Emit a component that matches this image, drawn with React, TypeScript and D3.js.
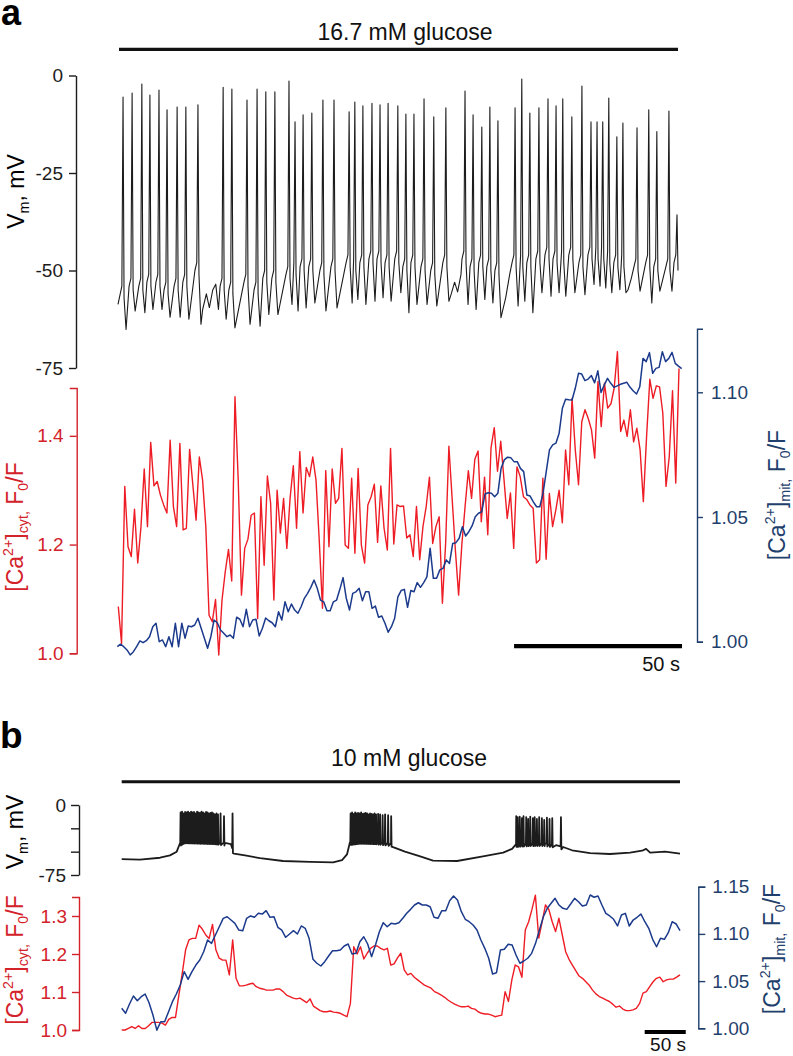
import React, { useEffect, useRef } from 'react';
import * as d3 from 'd3';

const W = 793;
const H = 1056;
const FONT = '"Liberation Sans", Arial, Helvetica, sans-serif';
const INK = '#1c1c1c';
const RED = '#ee1c25';
const RED_AXIS = '#d3222a';
const BLUE = '#1b3a8c';
const BLUE_AXIS = '#1f3f6d';

// ---------- panel a : 16.7 mM glucose ----------
// action potentials: time (s), peak (mV), threshold before spike (mV), trough after spike (mV)
const vmASpikeTimes = [
  1.5, 4.2, 7.1, 9.5, 12.2, 14.6, 17.6, 20.2, 23.8, 31.3, 33.9, 38.4, 41.4, 44.0, 46.7, 50.9, 52.7, 55.1, 57.7, 61.0,
  64.3, 68.8, 70.5, 72.9, 75.6, 78.0, 80.4, 83.3, 85.7, 88.1, 91.1, 94.0, 97.6, 103.3, 105.7, 108.3, 110.7, 113.1, 118.2, 120.2,
  122.6, 125.3, 128.0, 130.4, 132.4, 135.1, 138.1, 140.8, 142.6, 144.3, 146.1, 148.5, 150.3, 154.5, 158.0, 160.4, 164.0, 166.4,
];
const vmASpikePeaks = [
  -5.5, -4.5, -2.2, -5, -3.7, -8.8, -8.1, -8.1, -7.5, -3, -3.5, -6.3, -3.5, -4.2, -4.2, -1.4, -11.9, -10.1, -9.6, -6.3,
  -6.3, -9.3, -6.8, -7.8, -7.1, -7.5, -7.1, -7.8, -9.9, -9.9, -6, -10.6, -8.3, -4, -10.1, -13.2, -8.1, -11.6, -8.3, -0.9,
  -9.6, -8.3, -6, -7.8, -6, -10.6, -2.7, -11.9, -11.9, -11.9, -5.8, -15.7, -12.2, -13.4, -8.8, -14.4, -9.1, -35.7,
];
const vmAThresholds = [
  -54, -52, -52, -51, -51, -53, -52, -51, -48, -52, -53, -51, -53, -50, -50, -49, -48, -47, -47, -48,
  -47, -46, -47, -46, -45, -45, -46, -45, -47, -46, -47, -48, -46, -45, -47, -46, -47, -48, -46, -46,
  -46, -45, -44, -45, -45, -44, -46, -44, -44, -44, -45, -46, -46, -47, -46, -47, -47, -46,
];
const vmATroughs = [
  -65.1, -60.4, -60.8, -60, -60, -62, -62, -62.5, -63.8, -62.5, -64.7, -63.8, -64.3, -61.3, -61.3, -58.7, -60.4, -59.6, -58.3, -60.4,
  -59.6, -58.3, -57.4, -58.7, -57.9, -57, -57.9, -55.7, -60.8, -58.7, -58.7, -59.1, -57.9, -58.7, -60, -57.4, -58.3, -62.1, -59.1, -57.9,
  -60.8, -55.7, -56.6, -55.7, -56.6, -55.7, -56.2, -53.6, -54.0, -54.5, -55.7, -54.9, -55.7, -55.3, -58.3, -55.3, -55.3, -50,
];
// baseline readings inside the longer pauses between spikes: [s, mV]
const vmAPauses: [number, number][] = [
  [25.2, -60], [26.3, -56], [27.2, -59.5], [28.2, -55], [29.1, -53.5], [29.9, -60],
  [99.2, -56], [100.2, -53], [101.1, -55.5], [102.1, -51],
  [115.4, -57], [116.6, -51],
  [151.8, -55], [152.8, -52],
];
const vmAStart = -58.7;

// cytosolic Ca2+ (F0/F), one sample per frame
const caCytA = [
  1.086, 1.018, 1.307, 1.196, 1.178, 1.265, 1.166, 1.233, 1.339, 1.233,
  1.388, 1.308, 1.316, 1.291, 1.273, 1.258, 1.392, 1.270, 1.233, 1.386,
  1.227, 1.230, 1.375, 1.310, 1.245, 1.361, 1.319, 1.233, 1.070, 1.058,
  1.099, 0.997, 1.098, 1.150, 1.191, 1.133, 1.472, 1.319, 1.107, 1.193,
  1.210, 1.254, 1.258, 1.064, 1.288, 1.162, 1.326, 1.276, 1.098, 1.300,
  1.221, 1.285, 1.193, 1.285, 1.345, 1.230, 1.371, 1.258, 1.342, 1.325,
  1.361, 1.319, 1.208, 1.083, 1.336, 1.196, 1.339, 1.276, 1.285, 1.377,
  1.199, 1.193, 1.322, 1.184, 1.340, 1.199, 1.166, 1.273, 1.288, 1.311,
  1.204, 1.308, 1.230, 1.190, 1.377, 1.201, 1.273, 1.270, 1.271, 1.212,
  1.218, 1.178, 1.270, 1.172, 1.233, 1.270, 1.324, 1.202, 1.233, 1.251,
  1.092, 1.203, 1.381, 1.285, 1.190, 1.107, 1.200, 1.270, 1.336, 1.285,
  1.357, 1.372, 1.242, 1.324, 1.218, 1.378, 1.415, 1.335, 1.390, 1.320,
  1.248, 1.295, 1.193, 1.343, 1.325, 1.288, 1.283, 1.273, 1.267, 1.166,
  1.172, 1.322, 1.173, 1.294, 1.233, 1.264, 1.300, 1.240, 1.374, 1.310,
  1.469, 1.374, 1.310, 1.426, 1.448, 1.432, 1.411, 1.359, 1.500, 1.417,
  1.497, 1.451, 1.459, 1.488, 1.555, 1.408, 1.429, 1.399, 1.448, 1.389,
  1.414, 1.374, 1.279, 1.399, 1.504, 1.469, 1.492, 1.490, 1.442, 1.307,
  1.362, 1.483, 1.313, 1.524,
];

// mitochondrial Ca2+ (F0/F)
const caMitA = [
  0.998, 0.999, 0.998, 0.9967, 0.9947, 0.996, 0.998, 1.0003, 0.9996, 1.0004,
  1.002, 1.006, 1.0074, 1.0, 1.0007, 0.998, 1.002, 0.998, 1.0074, 0.998,
  1.0074, 1.0014, 1.0063, 1.006, 1.0067, 1.0094, 1.0054, 1.0014, 0.9974, 1.002,
  1.0087, 1.0076, 1.0047, 1.0034, 1.002, 1.0027, 1.0014, 1.0098, 1.009, 1.006,
  1.013, 1.006, 1.0087, 1.009, 1.0023, 1.0054, 1.0095, 1.0084, 1.0076, 1.006,
  1.012, 1.0087, 1.016, 1.012, 1.0151, 1.0127, 1.0114, 1.014, 1.0174, 1.0194,
  1.0218, 1.0247, 1.0214, 1.0167, 1.016, 1.0124, 1.0124, 1.016, 1.0167, 1.021,
  1.0257, 1.0174, 1.0127, 1.0194, 1.02, 1.0214, 1.0164, 1.02, 1.02, 1.0134,
  1.0143, 1.0098, 1.0103, 1.0074, 1.0038, 1.006, 1.0094, 1.018, 1.0205, 1.021,
  1.0138, 1.0205, 1.02, 1.0237, 1.0218, 1.0237, 1.026, 1.0375, 1.0254, 1.0254,
  1.0288, 1.0294, 1.0328, 1.0314, 1.0394, 1.0397, 1.0415, 1.0461, 1.0424, 1.0441,
  1.0464, 1.0501, 1.0515, 1.0521, 1.0592, 1.0597, 1.0595, 1.0581, 1.0595,
  1.0695, 1.0729, 1.074, 1.0738, 1.0722, 1.0722, 1.0695, 1.0682, 1.0588, 1.0584,
  1.0561, 1.0541, 1.0541, 1.0595, 1.0682, 1.0769, 1.0789, 1.0796, 1.0836, 1.0936,
  1.0972, 1.097, 1.0969, 1.1016, 1.1076, 1.1073, 1.1047, 1.1053, 1.1067, 1.1038,
  1.1086, 1.0999, 1.103, 1.1056, 1.1036, 1.102, 1.1026, 1.1032, 1.1036, 1.104,
  1.102, 1.1005, 1.0993, 1.1022, 1.1136, 1.1123, 1.1159, 1.1076, 1.1096, 1.11,
  1.1163, 1.1123, 1.1136, 1.116, 1.1116, 1.1105, 1.1095,
];

// ---------- panel b : 10 mM glucose ----------
// slow wave of the membrane potential: [s, mV]
const vmBEnvelope: [number, number][] = [
  [0, -58], [22.3, -58.5], [46.7, -56.5], [58.8, -54], [67, -50], [71, -41], [77, -38], [95.4, -38.5],
  [113.6, -39], [125.8, -40.5], [133, -42], [136.8, -52], [150.2, -54], [168.5, -57], [196.5, -60],
  [229.4, -61], [257.4, -61.5], [268.4, -59], [274.4, -53], [278, -40], [290.4, -38.5], [308.7, -39],
  [328, -41], [333, -46], [345, -50], [363.6, -55], [379.2, -59.5], [408.5, -60], [440, -55],
  [464.6, -51], [475.5, -47], [480.3, -42], [497.4, -41], [515.7, -41], [529, -43], [537.6, -45],
  [548.5, -48.5], [570.5, -51.5], [594.8, -52.5], [619.2, -51], [633.8, -49], [638.7, -47],
  [643.6, -51], [661.9, -50], [680, -52],
];
const vmBSpikeTimes = [
  71.7, 73.5, 75.3, 77.2, 79.0, 80.8, 82.6, 84.5, 86.3, 88.1, 89.9, 91.8, 93.6, 95.4, 97.2, 99.1, 100.9, 102.7,
  104.5, 106.4, 108.2, 110.0, 111.8, 113.7, 115.5, 117.3, 120.4, 124.6, 135.0,
  278.8, 280.6, 282.5, 284.3, 286.1, 287.9, 289.8, 291.6, 293.4, 295.2, 297.1, 298.9, 300.7, 302.5, 304.4,
  306.2, 308.0, 309.8, 312.3, 314.7, 317.8, 320.8, 324.5, 328.2,
  480.5, 482.3, 484.8, 487.4, 489.4, 492.7, 495.1, 497.6, 500.8, 503.0, 505.7, 508.5, 511.8, 514.6, 517.9,
  521.1, 524.4, 535.0,
];
const vmBSpikePeaks = [
  -8, -7, -9, -7.5, -8, -7, -8.5, -7, -8, -7.5, -9, -7, -8, -8.5, -7, -8, -9, -7.5,
  -8, -9, -8.5, -8, -9, -10, -9, -10, -9, -12, -9,
  -9, -8, -9.5, -8, -9, -8.5, -9, -8, -9.5, -9, -8.5, -9, -10, -9, -9.5,
  -10, -9, -10, -9.5, -10, -11, -10, -11, -12,
  -12, -13, -12.5, -14, -12, -13, -15, -12.5, -14, -13, -15, -13, -14, -16, -13.5,
  -15, -14, -13,
];

const caCytB = [
  1.0, 1.0, 1.004, 1.009, 1.004, 1.011, 1.004, 1.004, 1.011, 1.02,
  1.02, 1.02, 1.018, 1.013, 1.028, 1.033, 1.033, 1.092, 1.149, 1.211,
  1.237, 1.241, 1.241, 1.276, 1.265, 1.25, 1.241, 1.278, 1.211, 1.189,
  1.184, 1.184, 1.145, 1.237, 1.136, 1.116, 1.116, 1.118, 1.121, 1.123,
  1.114, 1.11, 1.108, 1.105, 1.105, 1.105, 1.108, 1.108, 1.101, 1.092,
  1.088, 1.084, 1.082, 1.084, 1.078, 1.072, 1.082, 1.063, 1.057, 1.051,
  1.048, 1.048, 1.05, 1.047, 1.046, 1.044, 1.039, 1.035, 1.07, 1.219,
  1.2, 1.219, 1.187, 1.202, 1.215, 1.221, 1.221, 1.215, 1.211, 1.215,
  1.171, 1.174, 1.19,
  1.202, 1.158, 1.145, 1.149, 1.139, 1.132, 1.125, 1.118, 1.114, 1.11,
  1.101, 1.097, 1.092, 1.086, 1.079, 1.073, 1.068, 1.064, 1.061, 1.061,
  1.063, 1.057, 1.055, 1.048, 1.044, 1.042, 1.042, 1.039, 1.035, 1.037,
  1.039, 1.101, 1.075, 1.132, 1.171, 1.166, 1.139, 1.263, 1.285, 1.318,
  1.355, 1.242, 1.284, 1.329, 1.317, 1.285, 1.259, 1.294, 1.25, 1.206,
  1.186, 1.171, 1.156, 1.142, 1.136, 1.127, 1.118, 1.105, 1.095, 1.088,
  1.084, 1.079, 1.075, 1.068, 1.06, 1.063, 1.055, 1.051, 1.051, 1.053,
  1.057, 1.07, 1.097, 1.101, 1.114, 1.127, 1.136, 1.139, 1.127, 1.132,
  1.134, 1.134, 1.139, 1.145,
];

const caMitB = [
  1.0212, 1.0159, 1.0257, 1.0342, 1.0292, 1.0335, 1.0363, 1.0271, 1.0141, 0.998,
  1.007, 1.007, 1.0176, 1.0282, 1.0363, 1.0459, 1.06, 1.0519, 1.06, 1.067,
  1.0724, 1.0811, 1.0935, 1.09, 1.0988, 1.1076, 1.1165, 1.1182, 1.1147, 1.1112,
  1.1041, 1.1034, 1.1165, 1.119, 1.1176, 1.1218, 1.121, 1.1246, 1.1176, 1.1182,
  1.107, 1.1041, 1.0964, 1.0999, 1.1034, 1.0999, 1.1084, 1.1059, 1.0953, 1.0731,
  1.0689, 1.066, 1.0706, 1.0766, 1.0822, 1.0822, 1.0829, 1.0872, 1.0893, 1.0787,
  1.0794, 1.0917, 1.097, 1.0893, 1.0759, 1.0882, 1.1023, 1.1119,
  1.1076, 1.1112, 1.1105, 1.1119, 1.1165, 1.1218, 1.126, 1.1306, 1.133, 1.1306,
  1.1306, 1.1288, 1.1176, 1.1165, 1.1246, 1.1246, 1.1352, 1.1401, 1.1359, 1.1235,
  1.1155, 1.1129, 1.1094, 1.1041, 1.0935, 1.0847, 1.0742, 1.0575, 1.0589, 1.0829,
  1.0837, 1.089, 1.0882, 1.0776, 1.0689, 1.0713, 1.0742, 1.0794, 1.09, 1.1041,
  1.1182, 1.1271, 1.1324, 1.1377, 1.1306, 1.1271, 1.126, 1.1317, 1.1377, 1.1341,
  1.1296, 1.1306, 1.1412, 1.1388, 1.1401, 1.1306, 1.1218, 1.119, 1.1155, 1.1084,
  1.12, 1.1218, 1.1084, 1.1147, 1.1176, 1.121, 1.1129, 1.1059, 1.0943, 1.0864,
  1.0953, 1.0943, 1.1013, 1.1129, 1.1105, 1.1034,
];

type Pt = [number, number];
type Part = [string, 'n' | 'sup' | 'sub'];

const vmLabel: Part[] = [['V', 'n'], ['m', 'sub'], [', mV', 'n']];
const cytLabel: Part[] = [['[Ca', 'n'], ['2+', 'sup'], [']', 'n'], ['cyt,', 'sub'], [' F', 'n'], ['0', 'sub'], ['/F', 'n']];
const mitLabel: Part[] = [['[Ca', 'n'], ['2+', 'sup'], [']', 'n'], ['mit,', 'sub'], [' F', 'n'], ['0', 'sub'], ['/F', 'n']];

function buildVmA(): Pt[] {
  const pts: Pt[] = [[0, vmAStart]];
  const last = vmASpikeTimes.length - 1;
  vmASpikeTimes.forEach((t, i) => {
    pts.push([t - 0.35, vmAThresholds[i]]);
    pts.push([t, vmASpikePeaks[i]]);
    if (i === last) {
      pts.push([t + 0.3, vmATroughs[i]]);
      return;
    }
    const next = vmASpikeTimes[i + 1];
    pts.push([t + 0.3, vmAThresholds[i] - 3]);
    pts.push([t + 0.9, vmATroughs[i]]);
    vmAPauses.filter((p) => p[0] > t + 0.9 && p[0] < next - 0.9).forEach((p) => pts.push(p));
    if (next - t > 2.2) pts.push([next - 0.9, vmAThresholds[i + 1] - 2]);
  });
  return pts;
}

function buildVmB(): Pt[] {
  const env = d3
    .scaleLinear()
    .domain(vmBEnvelope.map((d) => d[0]))
    .range(vmBEnvelope.map((d) => d[1]));
  const pts: Pt[] = [...vmBEnvelope];
  vmBSpikeTimes.forEach((t, i) => {
    pts.push([t - 0.4, env(t - 0.4)]);
    pts.push([t, vmBSpikePeaks[i]]);
    pts.push([t + 0.5, env(t + 0.5) - 3]);
  });
  return pts.sort((a, b) => a[0] - b[0]);
}

function styleAxis(g: d3.Selection<SVGGElement, unknown, null, undefined>, color: string) {
  g.attr('font-family', FONT).attr('font-size', 19);
  g.select('.domain').attr('stroke', color).attr('stroke-width', 1.4);
  g.selectAll('.tick line').attr('stroke', color).attr('stroke-width', 1.4);
  g.selectAll('.tick text').attr('fill', color);
}

function addRotLabel(
  svg: d3.Selection<SVGSVGElement, unknown, null, undefined>,
  x: number,
  y: number,
  parts: Part[],
  color: string
) {
  const size = 23;
  const t = svg
    .append('text')
    .attr('transform', `translate(${x},${y}) rotate(-90)`)
    .attr('text-anchor', 'middle')
    .attr('font-family', FONT)
    .attr('font-size', size)
    .attr('fill', color);
  let shift = 0;
  parts.forEach(([s, kind]) => {
    const target = kind === 'sup' ? -0.42 * size : kind === 'sub' ? 0.24 * size : 0;
    t.append('tspan')
      .attr('dy', target - shift)
      .attr('font-size', kind === 'n' ? size : size * 0.62)
      .text(s);
    shift = target;
  });
}

export default function App() {
  const svgRef = useRef<SVGSVGElement>(null);

  useEffect(() => {
    if (!svgRef.current) return;
    const svg = d3.select(svgRef.current);
    svg.selectAll('*').remove();

    // ---------- scales ----------
    const xA = d3.scaleLinear().domain([0, 166.7]).range([118, 678]);
    const yVmA = d3.scaleLinear().domain([-75, 0]).range([368, 75.5]);
    const yCytA = d3.scaleLinear().domain([1.0, 1.488]).range([653.3, 388]);
    const yMitA = d3.scaleLinear().domain([1.0, 1.1255]).range([641.7, 328.7]);
    const iCytA = d3.scaleLinear().domain([0, caCytA.length - 1]).range([118.3, 679]);
    const iMitA = d3.scaleLinear().domain([0, caMitA.length - 1]).range([117.3, 681.7]);

    const xB = d3.scaleLinear().domain([0, 680]).range([121.7, 680]);
    const yVmB = d3.scaleLinear().domain([-75, 0]).range([875, 805]);
    const yCytB = d3.scaleLinear().domain([1.0, 1.35]).range([1030, 897]);
    const yMitB = d3.scaleLinear().domain([1.0, 1.15]).range([1028.3, 886.7]);
    const iCytB = d3.scaleLinear().domain([0, caCytB.length - 1]).range([121.7, 680]);
    const iMitB = d3.scaleLinear().domain([0, caMitB.length - 1]).range([121.7, 680]);

    // ---------- panel letters & stimulus bars ----------
    svg.append('text').attr('x', 1).attr('y', 25).attr('font-family', FONT)
      .attr('font-size', 36).attr('font-weight', 700).attr('fill', '#000').text('a');
    svg.append('text').attr('x', 0).attr('y', 748).attr('font-family', FONT)
      .attr('font-size', 37).attr('font-weight', 700).attr('fill', '#000').text('b');

    svg.append('text').attr('x', 405).attr('y', 40).attr('text-anchor', 'middle')
      .attr('font-family', FONT).attr('font-size', 23).attr('fill', '#111').text('16.7 mM glucose');
    svg.append('line').attr('x1', xA(0.3)).attr('x2', xA(166.7)).attr('y1', 49.3).attr('y2', 49.3)
      .attr('stroke', '#111').attr('stroke-width', 3.3);

    svg.append('text').attr('x', 409).attr('y', 766).attr('text-anchor', 'middle')
      .attr('font-family', FONT).attr('font-size', 23).attr('fill', '#111').text('10 mM glucose');
    svg.append('line').attr('x1', xB(0)).attr('x2', xB(680)).attr('y1', 781.7).attr('y2', 781.7)
      .attr('stroke', '#111').attr('stroke-width', 3);

    // ---------- axes ----------
    const axVmA = svg.append('g').attr('transform', 'translate(76,0)')
      .call(d3.axisLeft(yVmA).tickValues([0, -25, -50, -75]).tickSize(7).tickSizeOuter(0).tickPadding(6)
        .tickFormat((d) => `${d}`));
    styleAxis(axVmA, INK);

    const axCytA = svg.append('g').attr('transform', 'translate(76.7,0)')
      .call(d3.axisLeft(yCytA).tickValues([1.0, 1.2, 1.4]).tickSize(7).tickSizeOuter(7).tickPadding(6)
        .tickFormat(d3.format('.1f') as any));
    styleAxis(axCytA, RED_AXIS);

    const axMitA = svg.append('g').attr('transform', 'translate(697,0)')
      .call(d3.axisRight(yMitA).tickValues([1.0, 1.05, 1.1]).tickSize(6).tickSizeOuter(6).tickPadding(8)
        .tickFormat(d3.format('.2f') as any));
    styleAxis(axMitA, BLUE_AXIS);

    const axVmB = svg.append('g').attr('transform', 'translate(79,0)')
      .call(d3.axisLeft(yVmB).tickValues([0, -25, -50, -75]).tickSize(8).tickSizeOuter(0).tickPadding(5)
        .tickFormat((d) => (d === 0 || d === -75 ? `${d}` : '')));
    styleAxis(axVmB, INK);

    const axCytB = svg.append('g').attr('transform', 'translate(79,0)')
      .call(d3.axisLeft(yCytB).tickValues([1.0, 1.1, 1.2, 1.3]).tickSize(7).tickSizeOuter(7).tickPadding(5)
        .tickFormat(d3.format('.1f') as any));
    styleAxis(axCytB, RED_AXIS);

    const axMitB = svg.append('g').attr('transform', 'translate(698.3,0)')
      .call(d3.axisRight(yMitB).tickValues([1.0, 1.05, 1.1, 1.15]).tickSize(7).tickSizeOuter(7).tickPadding(7)
        .tickFormat(d3.format('.2f') as any));
    styleAxis(axMitB, BLUE_AXIS);

    // ---------- axis titles ----------
    addRotLabel(svg, 23.5, 191.5, vmLabel, '#000');
    addRotLabel(svg, 22.5, 527, cytLabel, RED_AXIS);
    addRotLabel(svg, 784.5, 495, mitLabel, BLUE_AXIS);
    addRotLabel(svg, 22.5, 832, vmLabel, '#000');
    addRotLabel(svg, 22.5, 960, cytLabel, RED_AXIS);
    addRotLabel(svg, 779.5, 949, mitLabel, BLUE_AXIS);

    // ---------- traces ----------
    const vmA = buildVmA();
    svg.append('path').datum(vmA)
      .attr('d', d3.line<Pt>().x((d) => xA(d[0])).y((d) => yVmA(d[1])))
      .attr('fill', 'none').attr('stroke', INK).attr('stroke-width', 1.1).attr('stroke-linejoin', 'round');

    svg.append('path').datum(caCytA)
      .attr('d', d3.line<number>().x((_, i) => iCytA(i)).y((d) => yCytA(d)))
      .attr('fill', 'none').attr('stroke', RED).attr('stroke-width', 1.4).attr('stroke-linejoin', 'round');
    svg.append('path').datum(caMitA)
      .attr('d', d3.line<number>().x((_, i) => iMitA(i)).y((d) => yMitA(d)))
      .attr('fill', 'none').attr('stroke', BLUE).attr('stroke-width', 1.5).attr('stroke-linejoin', 'round');

    const vmB = buildVmB();
    svg.append('path').datum(vmB)
      .attr('d', d3.line<Pt>().x((d) => xB(d[0])).y((d) => yVmB(d[1])))
      .attr('fill', 'none').attr('stroke', INK).attr('stroke-width', 1.8).attr('stroke-linejoin', 'round');

    svg.append('path').datum(caCytB)
      .attr('d', d3.line<number>().x((_, i) => iCytB(i)).y((d) => yCytB(d)))
      .attr('fill', 'none').attr('stroke', RED).attr('stroke-width', 1.4).attr('stroke-linejoin', 'round');
    svg.append('path').datum(caMitB)
      .attr('d', d3.line<number>().x((_, i) => iMitB(i)).y((d) => yMitB(d)))
      .attr('fill', 'none').attr('stroke', BLUE).attr('stroke-width', 1.5).attr('stroke-linejoin', 'round');

    // ---------- 50 s scale bars ----------
    const barA0 = 117.9;
    svg.append('line').attr('x1', xA(barA0)).attr('x2', xA(barA0 + 50)).attr('y1', 646.2).attr('y2', 646.2)
      .attr('stroke', '#000').attr('stroke-width', 4.3);
    svg.append('text').attr('x', 680).attr('y', 671).attr('text-anchor', 'end')
      .attr('font-family', FONT).attr('font-size', 20).attr('fill', '#111').text('50 s');

    const barB0 = 637;
    svg.append('line').attr('x1', xB(barB0)).attr('x2', xB(barB0 + 50)).attr('y1', 1032).attr('y2', 1032)
      .attr('stroke', '#000').attr('stroke-width', 4);
    svg.append('text').attr('x', 686).attr('y', 1051).attr('text-anchor', 'end')
      .attr('font-family', FONT).attr('font-size', 19).attr('fill', '#111').text('50 s');
  }, []);

  return (
    <div style={{ position: 'absolute', left: 0, top: 0 }}>
      <svg ref={svgRef} width={W} height={H} style={{ display: 'block', background: '#fff' }} />
    </div>
  );
}
